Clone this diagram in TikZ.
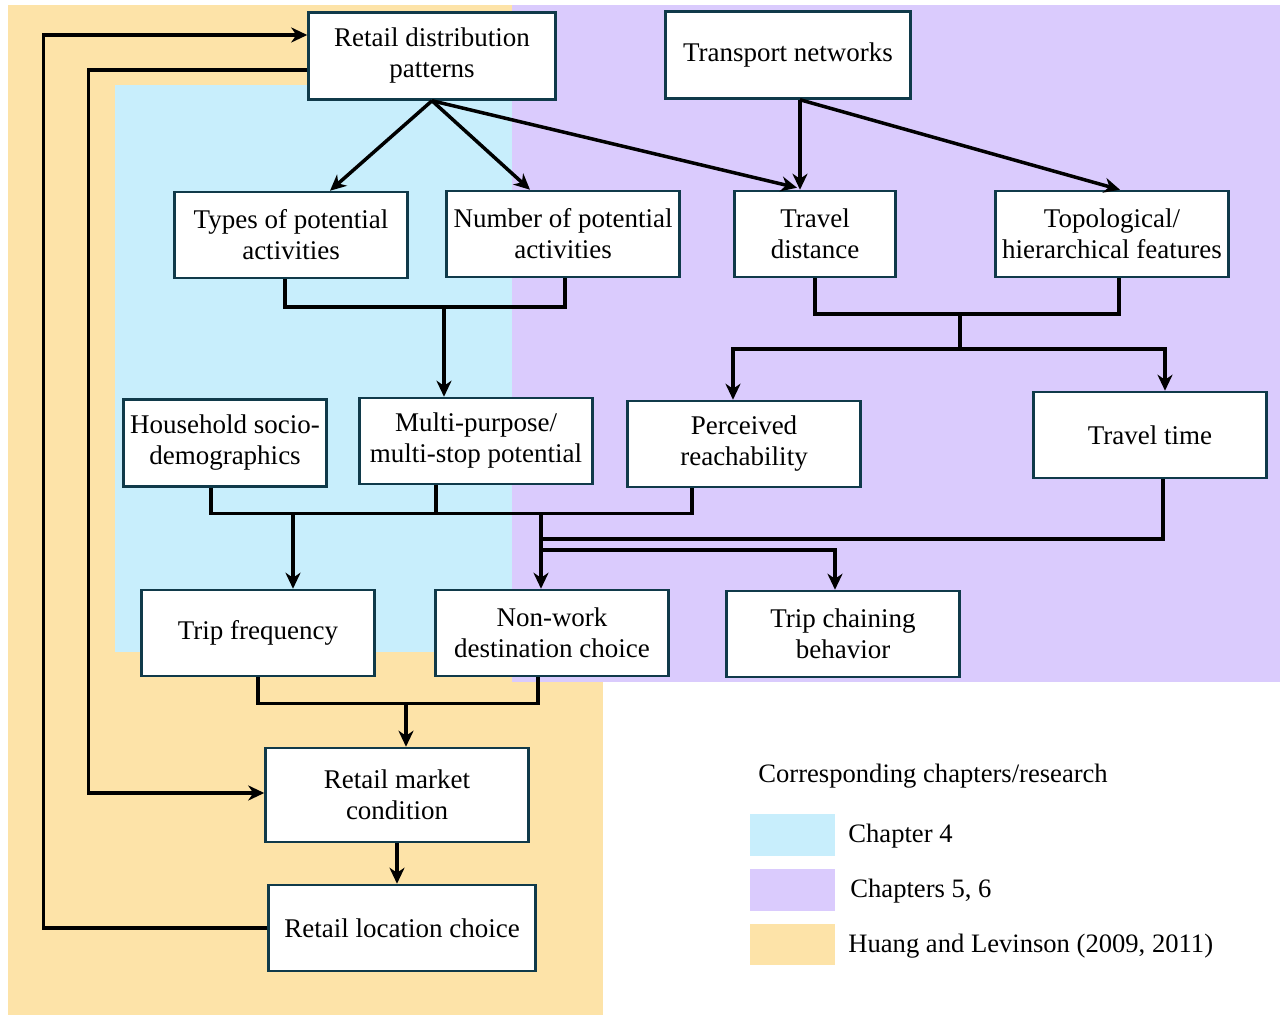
\documentclass[tikz,border=0pt]{standalone}
\usepackage{fontspec}
\setmainfont{Liberation Serif}
\usepackage{tikz}
\usetikzlibrary{shapes,arrows.meta,positioning,calc}

\definecolor{orangebg}{RGB}{253,227,168}
\definecolor{bluebg}{RGB}{200,238,252}
\definecolor{purplebg}{RGB}{218,203,253}
\definecolor{boxline}{RGB}{16,58,74}

\begin{document}
\begin{tikzpicture}[
    x=0.5pt, y=-0.5pt,
    box/.style={rectangle, draw=boxline, line width=1.25pt, fill=white, align=center, inner sep=2pt,
        minimum width=116.5pt, minimum height=43pt, font=\fontsize{13.5}{15.5}\selectfont},
    link/.style={line width=1.75pt, black},
    arr/.style={link, -{Stealth[length=8pt, width=7.5pt, inset=2.5pt]}},
    legtext/.style={anchor=west, inner sep=0pt, font=\fontsize{13.3}{15.5}\selectfont}
]
    \useasboundingbox (0,0) rectangle (1285,1015);

    % coloured regions
    \fill[orangebg] (8,5) rectangle (603,1015);
    \fill[purplebg] (512,5) rectangle (1280,682);
    \fill[bluebg] (115,85) rectangle (512,652);

    % boxes
    \node[box, minimum width=123.5pt, minimum height=43.5pt] (rdp) at (432,56) {Retail distribution\\patterns};
    \node[box, minimum width=122.5pt, minimum height=43.5pt] (tn) at (788,55) {Transport networks};

    \node[box] (types) at (291,235) {Types of potential\\activities};
    \node[box] (number) at (563,234) {Number of potential\\activities};
    \node[box, minimum width=80.5pt] (tdist) at (815,234) {Travel\\distance};
    \node[box] (topo) at (1112,234) {Topological/\\hierarchical features};

    \node[box, minimum width=101.5pt, minimum height=43.5pt] (hh) at (225,443) {Household socio-\\demographics};
    \node[box] (multi) at (476,441) {Multi-purpose/\\multi-stop potential};
    \node[box] (perc) at (744,444) {Perceived\\reachability};
    \node[box] (ttime) at (1150,435) {Travel time};

    \node[box] (tfreq) at (258,633) {Trip frequency};
    \node[box] (nonwork) at (552,633) {Non-work\\destination choice};
    \node[box] (chain) at (843,634) {Trip chaining\\behavior};

    \node[box, minimum width=131.5pt, minimum height=47pt] (market) at (397,795) {Retail market\\condition};
    \node[box, minimum width=133.5pt] (location) at (402,928) {Retail location choice};

    % junctions
    \coordinate (j1) at (444,306);
    \coordinate (j2) at (960,313);
    \coordinate (j3) at (960,349);
    \coordinate (j4) at (293,513);
    \coordinate (j5) at (541,513);
    \coordinate (j6) at (541,539);
    \coordinate (j7) at (541,550);
    \coordinate (j8) at (406,702);

    % top level
    \draw[arr] (rdp.south) -- ($(types.north)+(39,0)$);
    \draw[arr] (rdp.south) -- ($(number.north)+(-33,0)$);
    \draw[arr] (rdp.south) -- ($(tdist.north)+(-18,-2)$);
    \draw[arr] ($(tn.south)+(12,0)$) -- ($(tdist.north)+(-15,0)$);
    \draw[arr] ($(tn.south)+(12,0)$) -- ($(topo.north)+(8,0)$);

    % second level
    \draw[link] ($(types.south)+(-6,0)$) -- ++(0,28) -| ($(number.south)+(2,0)$);
    \draw[arr] (j1) -- (j1 |- multi.north);
    \draw[link] (tdist.south) -- ++(0,36) -| ($(topo.south)+(7,0)$);
    \draw[link] (j2) -- (j3);
    \draw[arr] (j3) -| ($(perc.north)+(-11,0)$);
    \draw[arr] (j3) -| ($(ttime.north)+(15,0)$);

    % third level
    \draw[link] ($(hh.south)+(-14,0)$) -- ++(0,26) -| ($(perc.south)+(-52,0)$);
    \draw[link] ($(multi.south)+(-40,0)$) -- ++(0,29);
    \draw[arr] (j4) -- (j4 |- tfreq.north);
    \draw[arr] (j5) -- (j5 |- nonwork.north);
    \draw[link] ($(ttime.south)+(13,0)$) |- (j6);
    \draw[arr] (j7) -| ($(chain.north)+(-8,0)$);

    % bottom
    \draw[link] (tfreq.south) -- ++(0,26) -| ($(nonwork.south)+(-14,0)$);
    \draw[arr] (j8) -- (j8 |- market.north);
    \draw[arr] (market.south) -- (market.south |- location.north);

    % feedback loops
    \draw[arr] (location.west) -- ++(-224,0) |- ($(rdp.west)+(0,-21)$);
    \draw[arr] ($(rdp.west)+(0,14)$) -- ++(-219,0) |- ($(market.west)+(0,-2)$);

    % legend
    \node[legtext] (legtitle) at (758,776) {Corresponding chapters/research};
    \fill[bluebg] (750,814) rectangle (835,856);
    \fill[purplebg] (750,869) rectangle (835,911);
    \fill[orangebg] (750,924) rectangle (835,965);
    \node[legtext] (leg1) at (848,836) {Chapter 4};
    \node[legtext] (leg2) at (850,891) {Chapters 5, 6};
    \node[legtext] (leg3) at (848,946) {Huang and Levinson (2009, 2011)};
\end{tikzpicture}
\end{document}
